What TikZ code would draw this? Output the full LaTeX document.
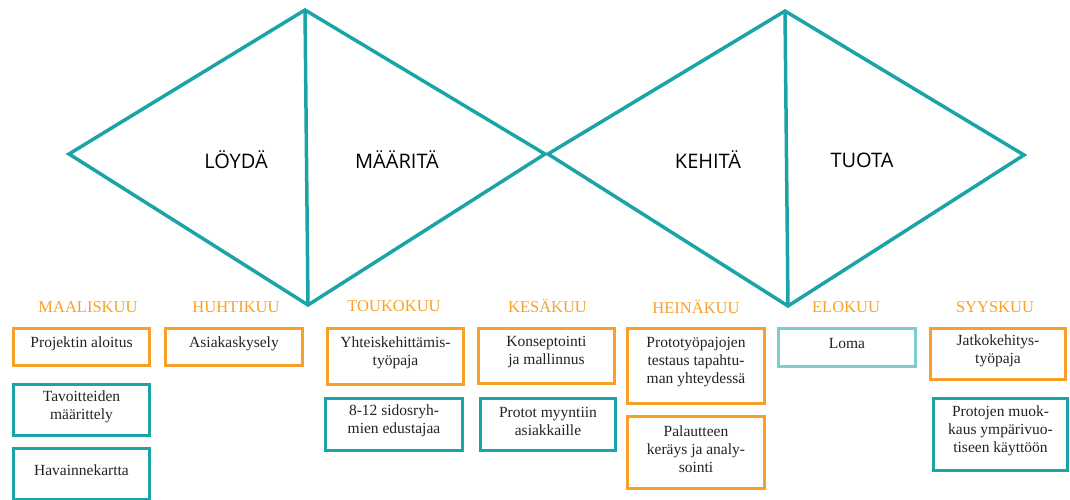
\documentclass[tikz,border=0pt]{standalone}
\usepackage{fontspec}
\setmainfont{Liberation Serif}
\newfontfamily\phasefont{Open Sans}
\definecolor{teal1}{HTML}{1BA4A7}
\definecolor{tealpale}{HTML}{7CCDCD}
\definecolor{orng}{HTML}{F8A02A}
\definecolor{ink}{HTML}{222222}
\begin{document}
\begin{tikzpicture}[x=1bp,y=-1bp,
  diamondline/.style={draw=teal1,line width=3.5bp,line join=miter},
  phase/.style={font=\phasefont\fontsize{20bp}{24bp}\selectfont,text=black,inner sep=0pt},
  month/.style={font=\fontsize{16.5bp}{20bp}\selectfont,text=orng,inner sep=0pt},
  card/.style={draw,line width=3bp,inner sep=0pt},
  ocard/.style={card,draw=orng},
  tcard/.style={card,draw=teal1},
  pcard/.style={card,draw=tealpale},
  cardtext/.style={font=\fontsize{15.5bp}{18bp}\selectfont,text=ink,align=center,inner sep=0pt,yshift=3.5bp}]
\useasboundingbox (0,0) rectangle (1070,500);

% double diamond outline
\coordinate (dl1) at (69,154);
\coordinate (dt1) at (305,10);
\coordinate (dr1) at (545,154);
\coordinate (db1) at (308,305);
\coordinate (dl2) at (548,154);
\coordinate (dt2) at (785,11);
\coordinate (dr2) at (1024,155);
\coordinate (db2) at (788,306);
\draw[diamondline] (dl1) -- (dt1) -- (dr1) -- (db1) -- cycle;
\draw[diamondline] (dt1) -- (db1);
\draw[diamondline] (dl2) -- (dt2) -- (dr2) -- (db2) -- cycle;
\draw[diamondline] (dt2) -- (db2);

% phase names
\node[phase] (p1) at (236,160) {LÖYDÄ};
\node[phase] (p2) at (397,160) {MÄÄRITÄ};
\node[phase] (p3) at (708,160) {KEHITÄ};
\node[phase] (p4) at (862,160) {TUOTA};

% months
\node[month] (m1) at (88,307) {MAALISKUU};
\node[month] (m2) at (236,307) {HUHTIKUU};
\node[month] (m3) at (394,306) {TOUKOKUU};
\node[month] (m4) at (547.5,306) {KESÄKUU};
\node[month] (m5) at (696,307) {HEINÄKUU};
\node[month] (m6) at (846,307) {ELOKUU};
\node[month] (m7) at (995,307) {SYYSKUU};

% activity cards
\node[ocard,minimum width=136bp,minimum height=37bp] (a1) at (81.5,347) {};
\node[cardtext] at (a1.center) {Projektin aloitus};
\node[tcard,minimum width=136bp,minimum height=51bp] (a2) at (81.5,410) {};
\node[cardtext] at (a2.center) {Tavoitteiden\\määrittely};
\node[tcard,minimum width=136bp,minimum height=51bp] (a3) at (81.5,474) {};
\node[cardtext] at (a3.center) {Havainnekartta};

\node[ocard,minimum width=137bp,minimum height=37bp] (b1) at (234,347) {};
\node[cardtext] at (b1.center) {Asiakaskysely};

\node[ocard,minimum width=136bp,minimum height=56bp] (c1) at (395.5,356.5) {};
\node[cardtext] at (c1.center) {Yhteiskehittämis-\\työpaja};
\node[tcard,minimum width=137bp,minimum height=52bp] (c2) at (394,424.5) {};
\node[cardtext] at (c2.center) {8-12 sidosryh-\\mien edustajaa};

\node[ocard,minimum width=136bp,minimum height=55bp] (d1) at (546.5,356) {};
\node[cardtext] at (d1.center) {Konseptointi\\ja mallinnus};
\node[tcard,minimum width=135bp,minimum height=52bp] (d2) at (548,424.5) {};
\node[cardtext] at (d2.center) {Protot myyntiin\\asiakkaille};

\node[ocard,minimum width=137bp,minimum height=75bp] (e1) at (696,366) {};
\node[cardtext] at (e1.center) {Prototyöpajojen\\testaus tapahtu-\\man yhteydessä};
\node[ocard,minimum width=137bp,minimum height=72bp] (e2) at (696,452.5) {};
\node[cardtext] at (e2.center) {Palautteen\\keräys ja analy-\\sointi};

\node[pcard,minimum width=137bp,minimum height=38bp] (f1) at (847,347.5) {};
\node[cardtext] at (f1.center) {Loma};

\node[ocard,minimum width=135bp,minimum height=51bp] (g1) at (998,354) {};
\node[cardtext] at (g1.center) {Jatkokehitys-\\työpaja};
\node[tcard,minimum width=134bp,minimum height=72bp] (g2) at (1000.5,434.5) {};
\node[cardtext] at (g2.center) {Protojen muok-\\kaus ympärivuo-\\tiseen käyttöön};
\end{tikzpicture}
\end{document}
